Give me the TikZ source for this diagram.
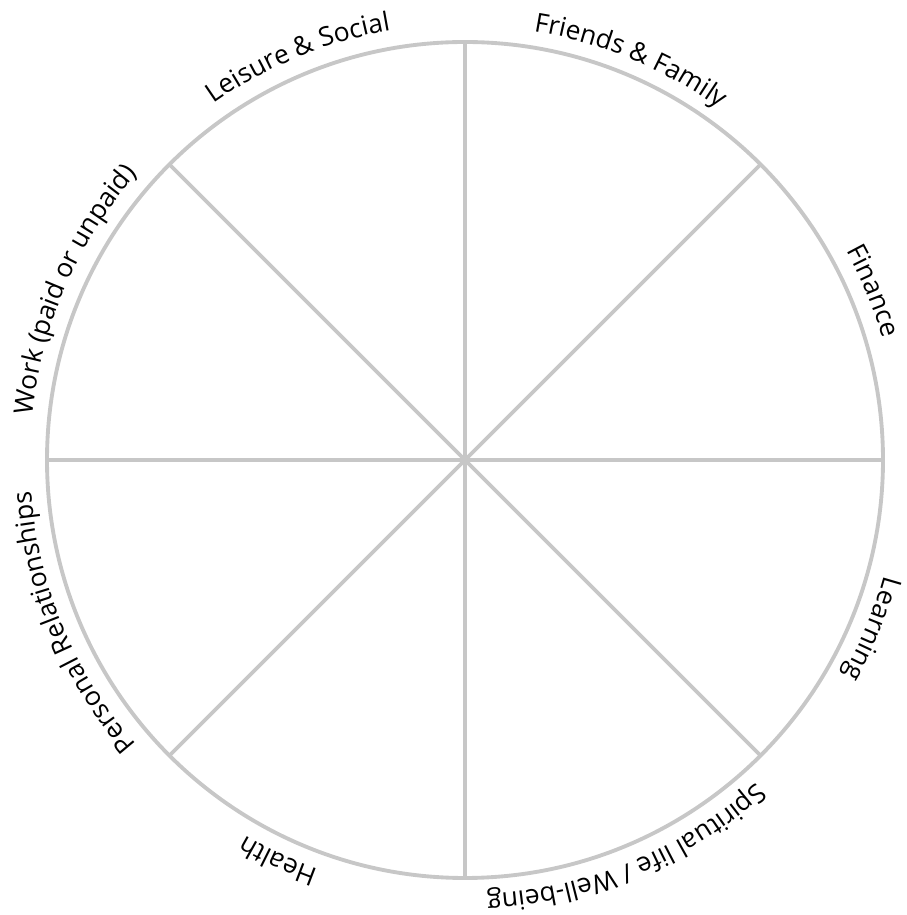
\documentclass[tikz,border=0pt]{standalone}
\usepackage{fontspec}
\setmainfont{Open Sans}
\usetikzlibrary{decorations.text}

\newcommand{\labelfont}{\fontsize{15}{17}\selectfont}
\tikzset{
  wheel/.style={draw=black!22, line width=2.2pt},
  wheel label/.style={decorate, decoration={text along path,
      text align=center, text={|\labelfont|#1}}}
}

\begin{document}
\begin{tikzpicture}
    \useasboundingbox (0,0) rectangle (18.12,18.3);
    \coordinate (O) at (9.3,9.1);
    \begin{scope}[shift={(O)}]
      % wheel and spokes
      \draw[wheel] (0,0) circle (8.36);
      \foreach \a in {0,45,90,135}
        \draw[wheel] (\a:8.36) -- (\a+180:8.36);
      % labels round the rim
      \path[wheel label={Leisure {\&} Social}] (162.5:8.72) arc[start angle=162.5, end angle=62.5, radius=8.72];
      \path[wheel label={Friends {\&} Family}] (117.5:8.68) arc[start angle=117.5, end angle=17.5, radius=8.68];
      \path[wheel label={Finance}] (72.5:8.7) arc[start angle=72.5, end angle=-27.5, radius=8.7];
      \path[wheel label={Learning}] (27.5:8.7) arc[start angle=27.5, end angle=-72.5, radius=8.7];
      \path[wheel label={Spiritual life / Well-being}] (-17.5:8.7) arc[start angle=-17.5, end angle=-117.5, radius=8.7];
      \path[wheel label={Health}] (-65:8.7) arc[start angle=-65, end angle=-165, radius=8.7];
      \path[wheel label={Personal Relationships}] (252.5:8.7) arc[start angle=252.5, end angle=152.5, radius=8.7];
      \path[wheel label={Work (paid or unpaid)}] (206.5:8.7) arc[start angle=206.5, end angle=106.5, radius=8.7];
    \end{scope}
  \end{tikzpicture}
\end{document}
